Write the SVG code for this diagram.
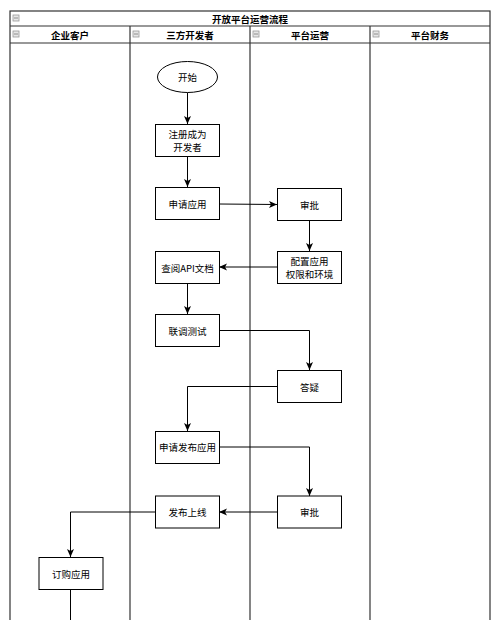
<svg xmlns="http://www.w3.org/2000/svg" width="500" height="620" viewBox="0 0 500 620">
<style>
.frame{fill:none;stroke:#333;stroke-width:1.2}
.node{fill:#fff;stroke:#000;stroke-width:1}
.edge{fill:none;stroke:#000;stroke-width:1}
.t{font-family:"Noto Sans CJK SC","Noto Sans",sans-serif;font-size:9.5px;fill:#000;text-anchor:middle;dominant-baseline:central}
.h{font-weight:bold}
.ic{fill:#e6e6e6;stroke:#999;stroke-width:0.8}
.icl{stroke:#777;stroke-width:0.8}
</style>
<defs>
<marker id="arr" markerUnits="userSpaceOnUse" markerWidth="10" markerHeight="10" viewBox="0 0 10 10" refX="8" refY="5" orient="auto">
<path d="M0,1.5 L8,5 L0,8.5 L2,5 z" fill="#000"/>
</marker>
</defs>
<rect width="500" height="620" fill="#fff"/>
<g id="pool">
<rect class="frame" x="10" y="11" width="480" height="620"/>
<line class="frame" x1="10" y1="26" x2="490" y2="26"/>
<line class="frame" x1="10" y1="43" x2="490" y2="43"/>
<line class="frame" x1="130" y1="26" x2="130" y2="625"/>
<line class="frame" x1="250" y1="26" x2="250" y2="625"/>
<line class="frame" x1="370" y1="26" x2="370" y2="625"/>
<rect class="ic" x="13" y="15" width="6" height="6"/><line class="icl" x1="14" y1="18" x2="18" y2="18"/>
<text class="t h" x="250" y="18.5">开放平台运营流程</text>
</g>
<g id="lane-customer">
<rect class="ic" x="13" y="31" width="6" height="6"/><line class="icl" x1="14" y1="34" x2="18" y2="34"/>
<text class="t h" x="70" y="34.5">企业客户</text>
</g>
<g id="lane-developer">
<rect class="ic" x="133" y="31" width="6" height="6"/><line class="icl" x1="134" y1="34" x2="138" y2="34"/>
<text class="t h" x="190" y="34.5">三方开发者</text>
</g>
<g id="lane-ops">
<rect class="ic" x="253" y="31" width="6" height="6"/><line class="icl" x1="254" y1="34" x2="258" y2="34"/>
<text class="t h" x="310" y="34.5">平台运营</text>
</g>
<g id="lane-finance">
<rect class="ic" x="373" y="31" width="6" height="6"/><line class="icl" x1="374" y1="34" x2="378" y2="34"/>
<text class="t h" x="430" y="34.5">平台财务</text>
</g>
<g id="connectors">
<line class="edge" x1="187.5" y1="92.5" x2="187.5" y2="124" marker-end="url(#arr)"/>
<line class="edge" x1="187.5" y1="156.5" x2="187.5" y2="187" marker-end="url(#arr)"/>
<line class="edge" x1="219" y1="204" x2="277" y2="204.5" marker-end="url(#arr)"/>
<line class="edge" x1="309.5" y1="220" x2="309.5" y2="251" marker-end="url(#arr)"/>
<line class="edge" x1="277" y1="267" x2="219" y2="267" marker-end="url(#arr)"/>
<line class="edge" x1="187.5" y1="283" x2="187.5" y2="314" marker-end="url(#arr)"/>
<polyline class="edge" points="219,330.5 309.5,330.5 309.5,370" marker-end="url(#arr)"/>
<polyline class="edge" points="277,386.5 187.5,386.5 187.5,431" marker-end="url(#arr)"/>
<polyline class="edge" points="219,447 309.5,447 309.5,496" marker-end="url(#arr)"/>
<line class="edge" x1="277" y1="512" x2="219" y2="512" marker-end="url(#arr)"/>
<polyline class="edge" points="155,512 70.5,512 70.5,557" marker-end="url(#arr)"/>
<line class="edge" x1="70.5" y1="589" x2="70.5" y2="625"/>
</g>
<g id="n-start">
<ellipse class="node" cx="187.5" cy="77" rx="30" ry="15.5"/>
<text class="t" x="187.5" y="77">开始</text>
</g>
<g id="n-register">
<rect class="node" x="155.5" y="124.5" width="64" height="32"/>
<text class="t" x="187.5" y="134">注册成为</text>
<text class="t" x="187.5" y="147">开发者</text>
</g>
<g id="n-apply">
<rect class="node" x="155.5" y="187.5" width="64" height="32"/>
<text class="t" x="187.5" y="203.5">申请应用</text>
</g>
<g id="n-approve1">
<rect class="node" x="277.5" y="188.5" width="64" height="32"/>
<text class="t" x="309.5" y="204.5">审批</text>
</g>
<g id="n-config">
<rect class="node" x="277.5" y="251.5" width="64" height="32"/>
<text class="t" x="309.5" y="261">配置应用</text>
<text class="t" x="309.5" y="274">权限和环境</text>
</g>
<g id="n-docs">
<rect class="node" x="155.5" y="251.5" width="64" height="32"/>
<text class="t" x="187.5" y="267.5">查阅API文档</text>
</g>
<g id="n-test">
<rect class="node" x="155.5" y="314.5" width="64" height="32"/>
<text class="t" x="187.5" y="330.5">联调测试</text>
</g>
<g id="n-qa">
<rect class="node" x="277.5" y="370.5" width="64" height="32"/>
<text class="t" x="309.5" y="386.5">答疑</text>
</g>
<g id="n-publish-apply">
<rect class="node" x="155.5" y="431.5" width="64" height="32"/>
<text class="t" x="187.5" y="447">申请发布应用</text>
</g>
<g id="n-approve2">
<rect class="node" x="277.5" y="496" width="64" height="32"/>
<text class="t" x="309.5" y="512">审批</text>
</g>
<g id="n-publish">
<rect class="node" x="155.5" y="496" width="64" height="32"/>
<text class="t" x="187.5" y="512">发布上线</text>
</g>
<g id="n-subscribe">
<rect class="node" x="39" y="557.5" width="64" height="32"/>
<text class="t" x="71" y="573.5">订购应用</text>
</g>
</svg>
